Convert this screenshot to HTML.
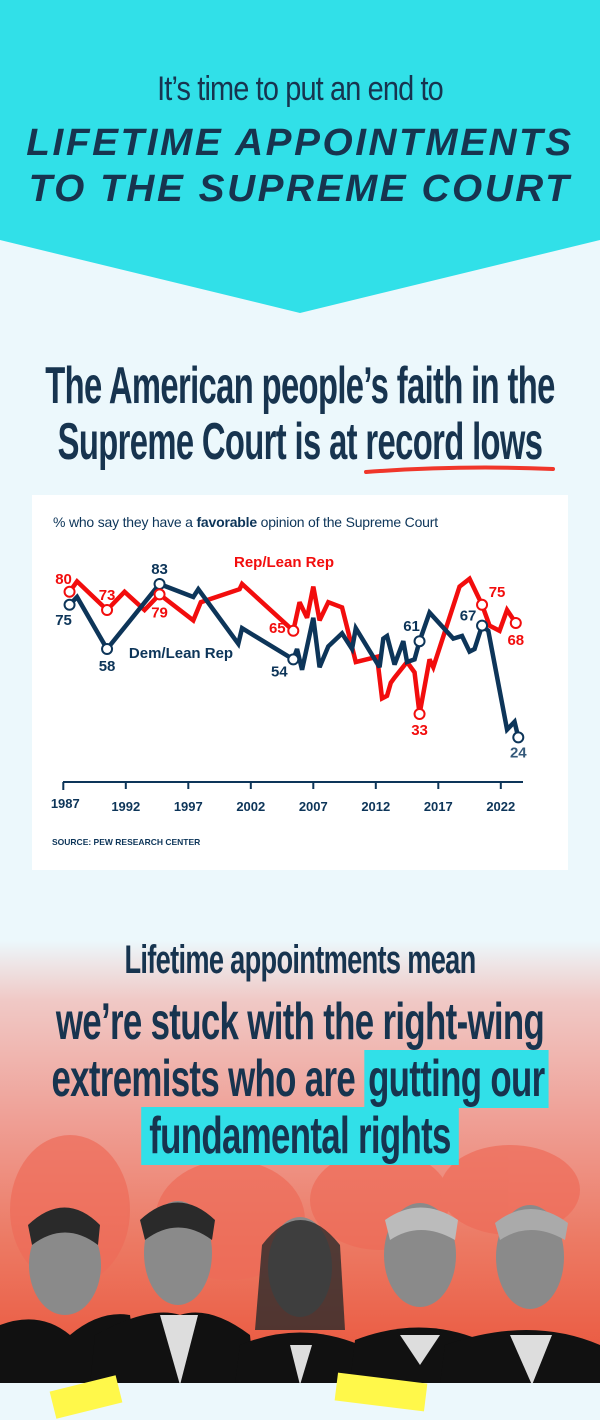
<!DOCTYPE html>
<html><head><meta charset="utf-8">
<style>
*{margin:0;padding:0;box-sizing:border-box}
body{width:600px;height:1420px;overflow:hidden;background:#ecf8fc;font-family:"Liberation Sans",sans-serif;position:relative}
.abs{position:absolute}
.cond{font-family:"Liberation Sans",sans-serif;font-weight:bold;color:#17344f}
.ctr{left:-300px;width:1200px;text-align:center;white-space:nowrap;transform-origin:600px 0}
.hl{background:#31e0e8;padding:0 6px}
</style></head>
<body>
<svg class="abs" style="left:0;top:0" width="600" height="320">
<polygon points="0,0 600,0 600,240 300,313 0,240" fill="#31e0e8"/>
</svg>
<div class="abs ctr cond" style="top:70px;font-size:34px;letter-spacing:-1px;font-weight:normal;transform:scaleX(0.85)">It’s time to put an end to</div>
<div class="abs ctr" style="top:120px;font-size:38px;line-height:46px;font-weight:bold;font-style:italic;color:#17344f;letter-spacing:2.5px;transform:scaleX(1.02)">LIFETIME APPOINTMENTS<br>TO THE SUPREME COURT</div>

<div class="abs ctr cond" style="top:358px;font-size:52px;line-height:56px;letter-spacing:-1px;transform:scaleX(0.63)">The American people’s faith in the<br>Supreme Court is at <span>record lows</span></div>
<svg class="abs" style="left:360px;top:462px" width="200" height="16"><path d="M6,10 Q100,3 193,7" stroke="#f0362a" stroke-width="4" fill="none" stroke-linecap="round"/></svg>

<div class="abs" style="left:32px;top:495px;width:536px;height:375px;background:#fff">
<div class="abs cond" style="left:21px;top:19px;font-size:14px;font-weight:normal;color:#0d3559;letter-spacing:-0.2px">% who say they have a <b>favorable</b> opinion of the Supreme Court</div>
<div class="abs cond" style="left:20px;top:342px;font-size:8.5px;color:#0d3559">SOURCE: PEW RESEARCH CENTER</div>
<svg id="chart" class="abs" style="left:0;top:0" width="536" height="375" viewBox="32 495 536 375"></svg>
</div>

<div class="abs" style="left:0;top:940px;width:600px;height:445px;background:linear-gradient(#ecf8fc 0px,#f0c9c6 60px,#ef9f95 180px,#ec7a64 300px,#ea5238 445px)"></div>
<svg class="abs" style="left:0;top:1130px" width="600" height="255">
<g fill="#ee6b58" opacity="0.7">
<ellipse cx="70" cy="80" rx="60" ry="75"/><ellipse cx="230" cy="90" rx="75" ry="60"/><ellipse cx="380" cy="70" rx="70" ry="50"/><ellipse cx="510" cy="60" rx="70" ry="45"/>
</g></svg>
<div class="abs ctr cond" style="top:938px;font-size:40px;letter-spacing:-1px;transform:scaleX(0.68)">Lifetime appointments mean</div>
<div class="abs ctr cond" style="top:994px;font-size:52px;line-height:57px;letter-spacing:-1px;transform:scaleX(0.67)">we’re stuck with the right-wing<br>extremists who are <span class="hl">gutting our</span><br><span class="hl" style="padding:0 12px">fundamental rights</span></div>

<svg class="abs" style="left:0;top:1195px" width="600" height="190">
<g fill="#8a8a8a">
<ellipse cx="65" cy="70" rx="36" ry="50"/><ellipse cx="178" cy="58" rx="34" ry="52"/><ellipse cx="300" cy="72" rx="32" ry="50"/><ellipse cx="420" cy="60" rx="36" ry="52"/><ellipse cx="530" cy="62" rx="34" ry="52"/>
</g>
<g fill="#2a2a2a">
<path d="M28,30 Q65,-5 100,30 L98,50 Q65,25 32,50Z"/><path d="M140,25 Q178,-10 215,25 L212,45 Q178,20 145,45Z"/><path d="M262,50 Q300,0 340,50 L345,135 L255,135Z" opacity="0.8"/><path d="M385,25 Q420,0 458,25 L455,45 Q420,25 390,45Z" fill="#bbb"/><path d="M495,28 Q530,0 568,28 L565,45 Q530,25 500,45Z" fill="#aaa"/>
</g>
<g fill="#111">
<path d="M0,130 Q40,115 70,140 Q100,115 130,120 L140,190 L0,190Z"/>
<path d="M95,140 Q150,110 180,120 Q210,110 250,140 L255,190 L90,190Z"/>
<path d="M240,150 Q300,125 360,150 L365,190 L235,190Z"/>
<path d="M355,145 Q420,120 480,145 L485,190 L350,190Z"/>
<path d="M445,150 Q530,120 600,150 L600,190 L440,190Z"/>
</g>
<g fill="#ddd"><path d="M160,120 L180,190 L198,120Z"/><path d="M290,150 L300,190 L312,150Z"/><path d="M400,140 L420,170 L440,140Z"/><path d="M510,140 L532,190 L552,140Z"/></g>
</svg>
<div class="abs" style="left:0;top:1383px;width:600px;height:37px;background:#ecf8fc"></div>
<div class="abs" style="left:52px;top:1383px;width:68px;height:28px;background:#fff84a;transform:rotate(-14deg)"></div>
<div class="abs" style="left:336px;top:1378px;width:90px;height:28px;background:#fff84a;transform:rotate(7deg)"></div>

<script>
const blueYears=[1987.5,1988.1,1990.5,1994.7,1997.4,1997.8,2001.0,2001.3,2005.4,2005.7,2006.1,2007.0,2007.5,2008.2,2009.3,2010.1,2010.4,2012.3,2012.6,2012.9,2013.5,2014.2,2014.5,2015.1,2015.5,2016.3,2018.2,2018.9,2019.5,2019.9,2020.5,2021.0,2022.5,2023.1,2023.4];
const blueValues=[75,78,58,83,78,81,60,66,54,58,50,70,51,59,64,58,66,51,62,63,52,61,53,54,61,72,62,63,57,58,67,65,27,30,24];
const redYears=[1987.5,1988.1,1990.5,1991.9,1993.5,1994.7,1997.4,1998.0,2001.1,2001.3,2005.4,2005.9,2006.5,2007.0,2007.5,2008.2,2009.3,2010.4,2012.1,2012.5,2012.9,2013.2,2013.5,2014.5,2015.1,2015.5,2016.3,2016.6,2018.7,2019.5,2020.5,2021.1,2021.9,2022.5,2023.2];
const redValues=[80,84,73,80,73,79,69,76,81,83,65,76,70,82,69,76,74,53,55,39,40,45,47,53,49,33,54,51,82,85,75,67,65,73,68];
const blueMarkers=[0,2,3,8,24,30,34];
const redMarkers=[0,2,5,10,25,30,34];
const tickYears=[1987,1992,1997,2002,2007,2012,2017,2022];
const NS="http://www.w3.org/2000/svg";
const svg=document.getElementById('chart');
const xS=y=>63.3+(y-1987)*12.5;
const yS=v=>584+(83-v)*2.6;
function mk(t,a){const e=document.createElementNS(NS,t);for(const k in a)e.setAttribute(k,a[k]);svg.appendChild(e);return e;}
let ax=mk('line',{x1:63,y1:782,x2:523,y2:782,stroke:'#0d3559','stroke-width':2});


tickYears.forEach((y,i)=>{
 const t=mk('line',{x1:xS(y),y1:782,x2:xS(y),y2:i==0?790:789,stroke:'#0d3559','stroke-width':2});
 
 
 const l=mk('text',{x:xS(y)+(i==0?2:0),y:i==0?808:811,'text-anchor':'middle','font-size':13,'font-weight':'bold','font-family':'Liberation Sans, sans-serif',fill:'#0d3559'});
 l.textContent=y;
 
 
});
function series(ys,vs,col,name){
 const p=mk('polyline',{points:ys.map((y,i)=>xS(y)+','+yS(vs[i])).join(' '),fill:'none',stroke:col,'stroke-width':4.5,'stroke-linejoin':'miter','stroke-miterlimit':3});
 
 
}
series(redYears,redValues,'#f20d0d','rep-line');
series(blueYears,blueValues,'#0d3559','dem-line');
const font='Liberation Sans, sans-serif';
function labels(ys,vs,idx,col,offs,name){
 idx.forEach((i,k)=>{
  const c=mk('circle',{cx:xS(ys[i]),cy:yS(vs[i]),r:5,fill:'#fff',stroke:col,'stroke-width':2});
  
  
  const t=mk('text',{x:xS(ys[i])+offs[k][0],y:yS(vs[i])+offs[k][1],'text-anchor':'middle','font-size':15,'font-weight':'bold','font-family':font,fill:k==idx.length-1&&name=='dem'?'#34597a':col});
  t.textContent=vs[i];
  
  
 });
}
labels(blueYears,blueValues,blueMarkers,'#0d3559',[[-6,20],[0,22],[0,-10],[-14,17],[-8,-10],[-14,-5],[0,20]],'dem');
labels(redYears,redValues,redMarkers,'#f20d0d',[[-6,-8],[0,-10],[0,23],[-16,2],[0,21],[15,-8],[0,22]],'rep');
let a=mk('text',{x:284,y:567,'text-anchor':'middle','font-size':15,'font-weight':'bold','font-family':font,fill:'#f20d0d'});a.textContent='Rep/Lean Rep';


let b=mk('text',{x:181,y:658,'text-anchor':'middle','font-size':15,'font-weight':'bold','font-family':font,fill:'#0d3559'});b.textContent='Dem/Lean Rep';


</script>
</body></html>
